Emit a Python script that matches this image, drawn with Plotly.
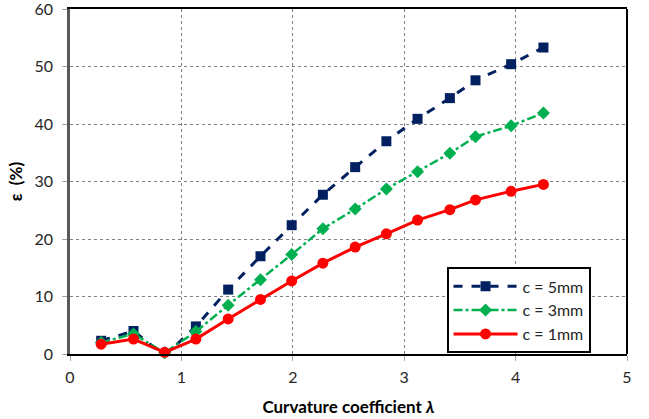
import plotly.graph_objects as go

# curvature coefficient lambda
lam = [0.28, 0.57, 0.85, 1.13, 1.42, 1.71, 1.99, 2.27, 2.56, 2.84, 3.12, 3.41, 3.64, 3.96, 4.25]

# epsilon (%) for each groove depth c
eps_c5 = [2.3, 4.0, -0.3, 4.8, 11.2, 17.0, 22.4, 27.7, 32.5, 37.0, 40.9, 44.5, 47.6, 50.4, 53.3]
eps_c3 = [2.0, 3.5, 0.2, 3.9, 8.5, 12.9, 17.3, 21.8, 25.2, 28.7, 31.7, 34.9, 37.8, 39.7, 41.9]
eps_c1 = [1.7, 2.6, 0.3, 2.6, 6.1, 9.5, 12.7, 15.8, 18.6, 20.9, 23.3, 25.1, 26.8, 28.3, 29.5]

FONT = "Lato, 'Open Sans', sans-serif"

fig = go.Figure()
fig.add_trace(go.Scatter(
    x=lam, y=eps_c5, name="c = 5mm", mode="lines+markers", cliponaxis=False,
    line=dict(color="#002060", width=3, dash="dash"),
    marker=dict(symbol="square", size=10, color="#002060"),
))
fig.add_trace(go.Scatter(
    x=lam, y=eps_c3, name="c = 3mm", mode="lines+markers", cliponaxis=False,
    line=dict(color="#00B050", width=2.5, dash="dashdot"),
    marker=dict(symbol="diamond", size=10, color="#00B050"),
))
fig.add_trace(go.Scatter(
    x=lam, y=eps_c1, name="c = 1mm", mode="lines+markers", cliponaxis=False,
    line=dict(color="#FF0000", width=3),
    marker=dict(symbol="circle", size=11, color="#FF0000"),
))

fig.update_xaxes(
    range=[0, 5], dtick=1, showgrid=True, gridcolor="#808080", griddash="dot", gridwidth=1,
    showline=True, linecolor="black", linewidth=2, mirror=True,
    ticks="outside", ticklen=5, tickcolor="#A6A6A6", automargin=False,
    ticklabeloverflow="allow", ticklabelstandoff=3,
    tickfont=dict(size=16, color="#262626"), zeroline=False,
    title=dict(text="<b>Curvature coefficient <i>λ</i></b>", font=dict(size=17, color="black"), standoff=16),
)
fig.update_yaxes(
    range=[0, 60], dtick=10, showgrid=True, gridcolor="#808080", griddash="dot", gridwidth=1,
    showline=True, linecolor="#595959", linewidth=2.5,
    ticks="outside", ticklen=5, tickcolor="#A6A6A6", automargin=False,
    ticklabeloverflow="allow", ticklabelstandoff=6,
    tickfont=dict(size=16, color="#262626"), zeroline=False,
    title=dict(text="<b>ε  (%)</b>", font=dict(size=17, color="black"), standoff=8),
)
# right edge of the plot frame
fig.add_shape(type="line", xref="paper", yref="paper", x0=1, x1=1, y0=0, y1=1,
              line=dict(color="black", width=2))

fig.update_layout(
    width=649, height=419,
    margin=dict(l=70, r=22, t=9, b=65),
    plot_bgcolor="white", paper_bgcolor="white",
    font=dict(family=FONT),
    legend=dict(
        x=0.676, y=0.251, xanchor="left", yanchor="top",
        bordercolor="black", borderwidth=2, bgcolor="white",
        itemwidth=64,
        font=dict(size=16, color="#262626"),
    ),
)
fig.write_html("out.html", config={"displayModeBar": False},
               post_script="document.body.style.margin='0px';")
